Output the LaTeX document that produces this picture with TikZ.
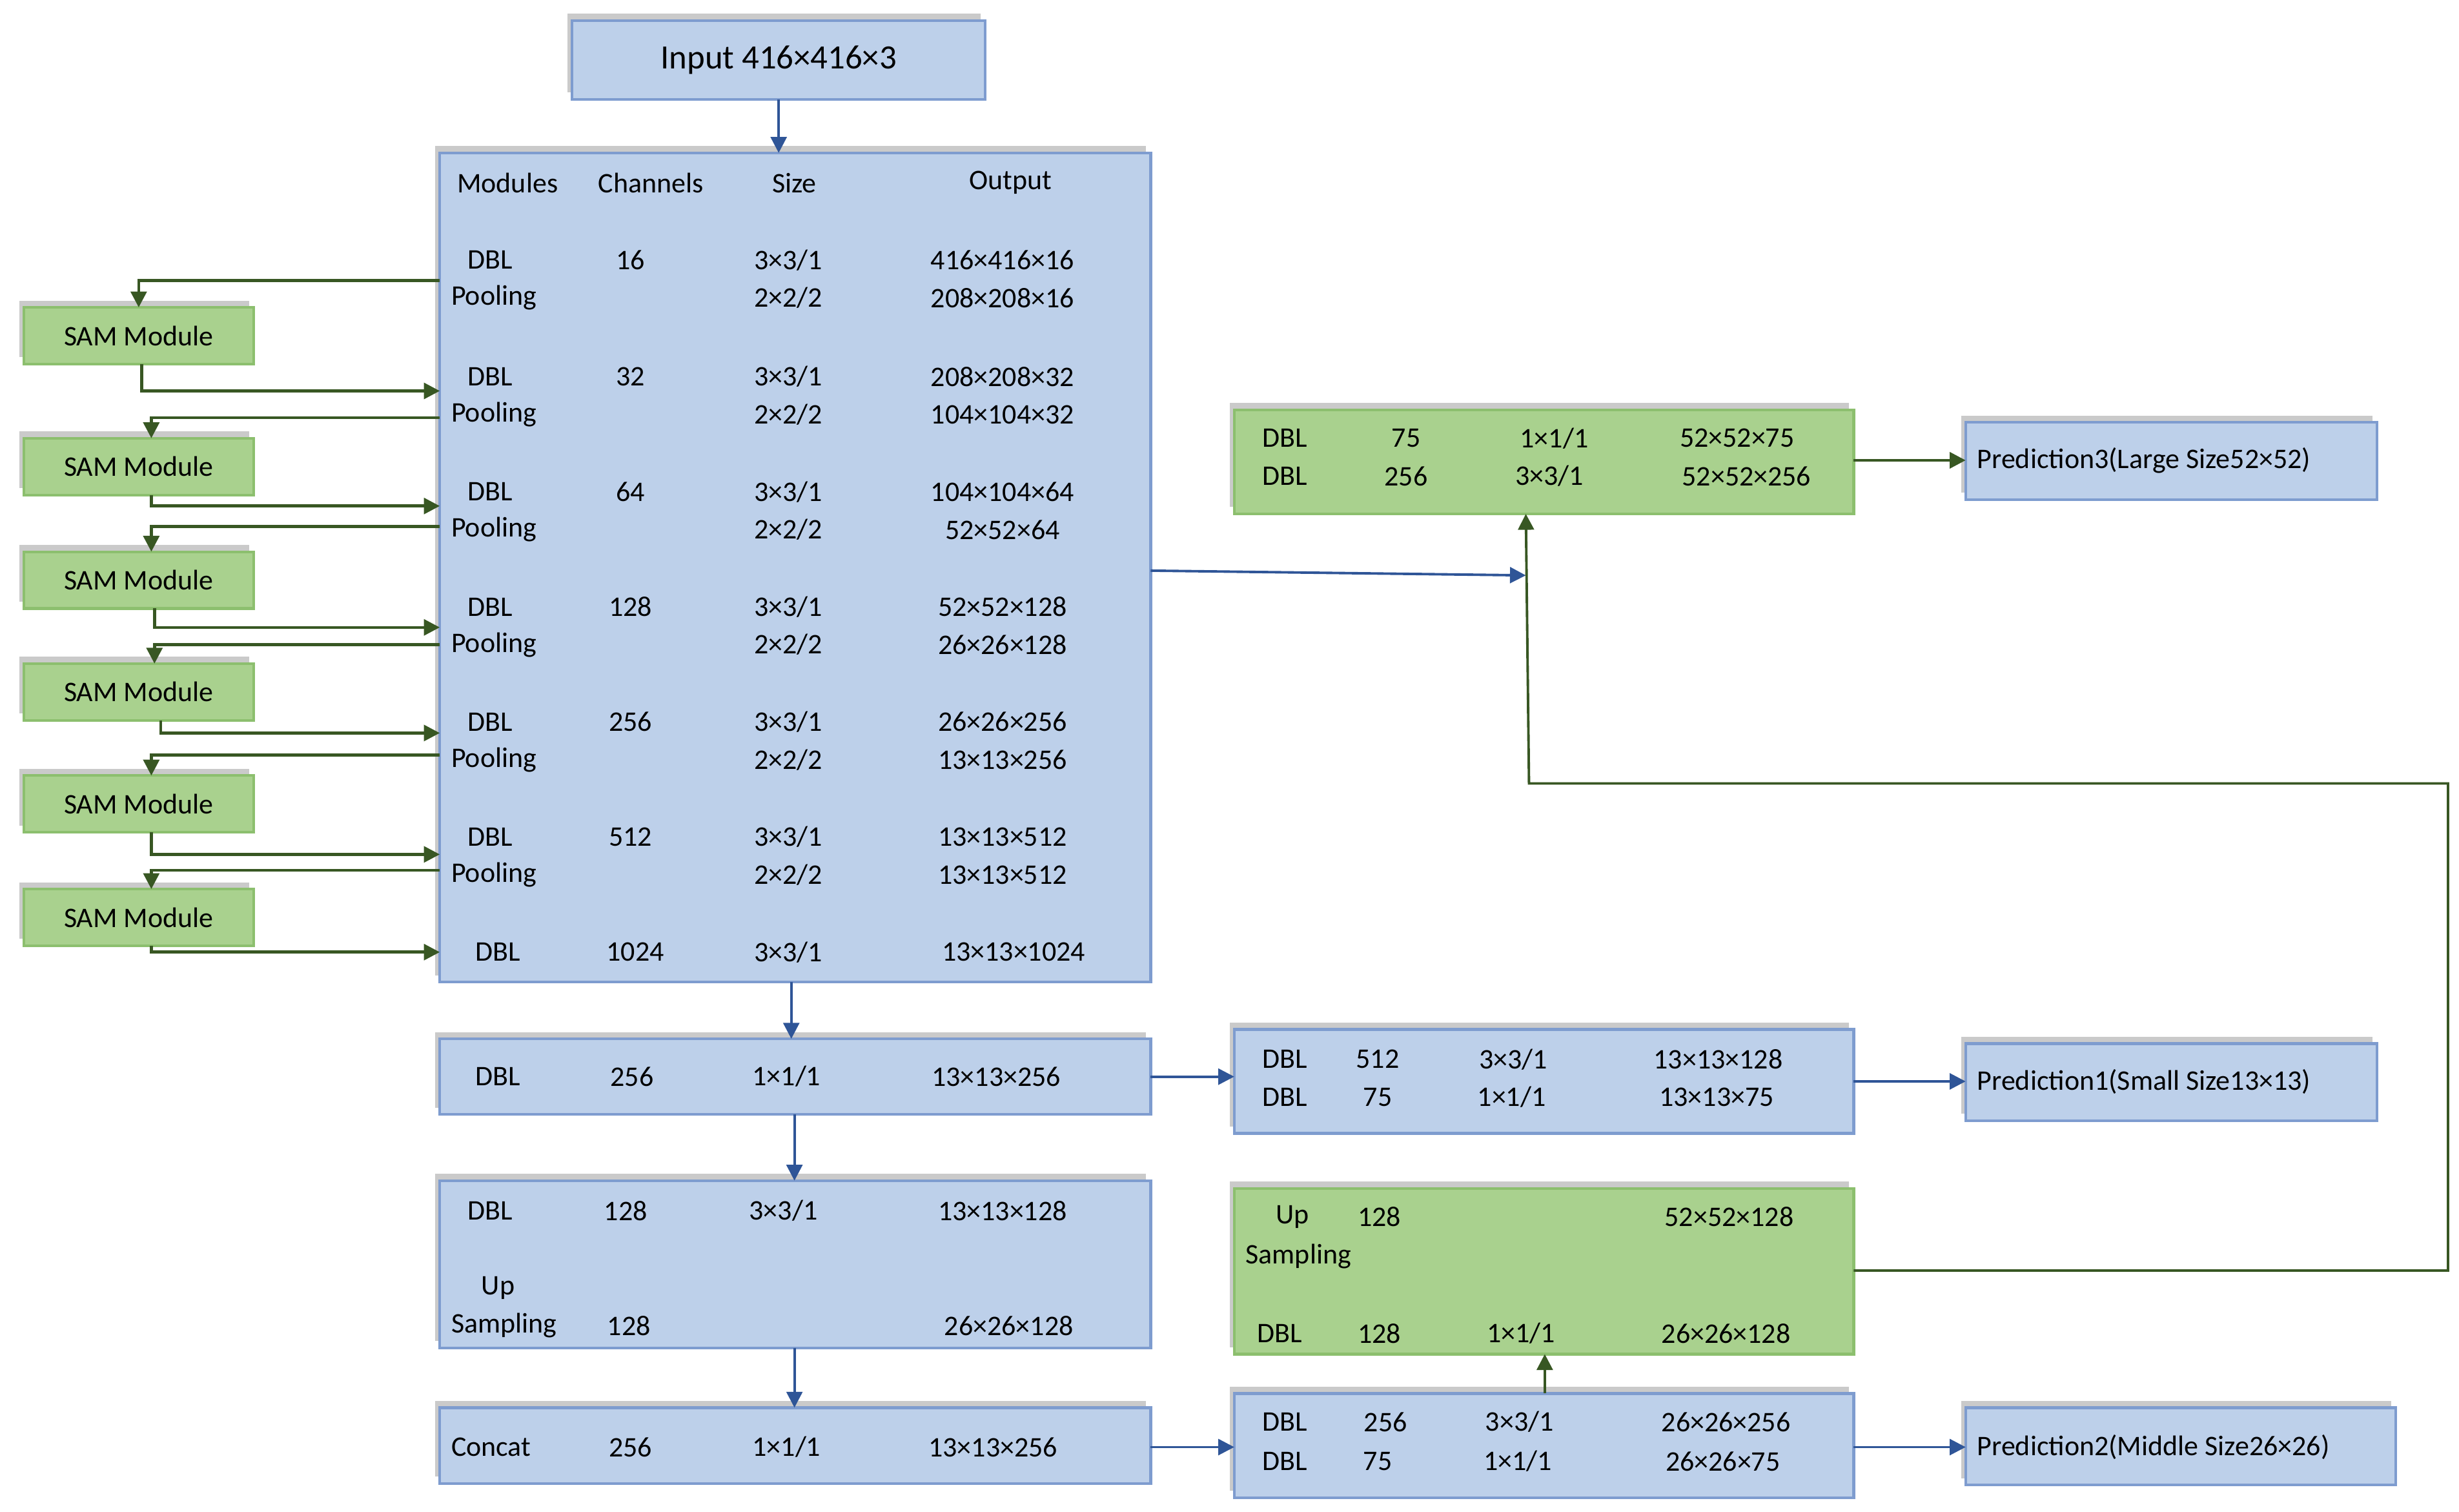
\documentclass[tikz,border=0pt]{standalone}
\usepackage{fontspec}
\setmainfont{Carlito}
\usetikzlibrary{shadows,arrows.meta}
\definecolor{bfill}{HTML}{BDD0EA}
\definecolor{bdraw}{HTML}{7E9CCF}
\definecolor{gfill}{HTML}{A9D18E}
\definecolor{gdraw}{HTML}{8CBF6E}
\definecolor{barrow}{HTML}{2F5597}
\definecolor{garrow}{HTML}{385723}
\tikzset{
 box/.style={draw=bdraw,fill=bfill,line width=1.2pt,drop shadow={shadow xshift=-2pt,shadow yshift=3pt,opacity=0.35,fill=black!60}},
 gbox/.style={draw=gdraw,fill=gfill,line width=1.2pt,drop shadow={shadow xshift=-2pt,shadow yshift=3pt,opacity=0.35,fill=black!60}},
 t/.style={inner sep=0pt,font=\fontsize{12.5}{14}\selectfont},
 ba/.style={draw=barrow,line width=1.1pt,-{Triangle[length=7pt,width=7pt]}},
 ga/.style={draw=garrow,line width=1.3pt,-{Triangle[length=7pt,width=7pt]}},
}
\begin{document}
\begin{tikzpicture}[x=0.02442cm,y=-0.02442cm]
\useasboundingbox (0,0) rectangle (1560,959);
% boxes
\path[box] (363,13) rectangle (625,63);
\node[t,font=\fontsize{15}{17}\selectfont] (in) at (494,38) {Input 416×416×3};
\coordinate (inB) at (494,63);
\path[box] (279,97) rectangle (730,623);
\coordinate (mainT) at (494,97);
\path[gbox] (783,260) rectangle (1176,326);
\path[box] (1247,268) rectangle (1508,317);
\node[t,anchor=west] (p3) at (1254,292) {Prediction3(Large Size52×52)};
\path[box] (279,659) rectangle (730,707);
\path[box] (783,653) rectangle (1176,719);
\path[box] (1247,662) rectangle (1508,711);
\node[t,anchor=west] (p1) at (1254,686) {Prediction1(Small Size13×13)};
\path[box] (279,749) rectangle (730,855);
\path[gbox] (783,754) rectangle (1176,859);
\path[box] (279,893) rectangle (730,941);
\path[box] (783,884) rectangle (1176,950);
\path[box] (1247,893) rectangle (1520,942);
\node[t,anchor=west] (p2) at (1254,918) {Prediction2(Middle Size26×26)};
% main table
\node[t] (h1) at (322,116) {Modules};
\node[t] (h2) at (413,116) {Channels};
\node[t] (h3) at (504,116) {Size};
\node[t] (h4) at (641,116) {Output};
\foreach \y/\c/\oa/\ob [count=\i] in {165/16/416×416×16/208×208×16, 239/32/208×208×32/104×104×32, 312/64/104×104×64/52×52×64, 385/128/52×52×128/26×26×128, 458/256/26×26×256/13×13×256, 531/512/13×13×512/13×13×512}{
 \node[t] (d\i) at (311,\y) {DBL};
 \node[t] (c\i) at (400,\y) {\c};
 \node[t] (s\i) at (500,\y) {3×3/1};
 \node[t] (o\i) at (636,\y) {\oa};
 \node[t,anchor=west] (pl\i) at (286,\y+24) {Pooling};
 \node[t] (ps\i) at (500,\y+24) {2×2/2};
 \node[t] (po\i) at (636,\y+24) {\ob};
}
\node[t] (d7) at (316,604) {DBL};
\node[t] (c7) at (403,604) {1024};
\node[t] (s7) at (500,604) {3×3/1};
\node[t] (o7) at (643,604) {13×13×1024};
% green top
\node[t] (a1) at (815,278) {DBL}; \node[t] (a2) at (892,278) {75}; \node[t] (a3) at (986,278) {1×1/1}; \node[t] (a4) at (1102,278) {52×52×75};
\node[t] (a5) at (815,302) {DBL}; \node[t] (a6) at (892,302) {256}; \node[t] (a7) at (983,302) {3×3/1}; \node[t] (a8) at (1108,302) {52×52×256};
% box 512
\node[t] (b1) at (815,672) {DBL}; \node[t] (b2) at (874,672) {512}; \node[t] (b3) at (960,672) {3×3/1}; \node[t] (b4) at (1090,672) {13×13×128};
\node[t] (b5) at (815,696) {DBL}; \node[t] (b6) at (874,696) {75}; \node[t] (b7) at (959,696) {1×1/1}; \node[t] (b8) at (1089,696) {13×13×75};
% green up
\node[t] (u1) at (820,772) {Up}; \node[t] (u2) at (875,772) {128}; \node[t] (u3) at (1097,772) {52×52×128};
\node[t,anchor=west] (u4) at (790,797) {Sampling};
\node[t] (u5) at (812,846) {DBL}; \node[t] (u6) at (875,846) {128}; \node[t] (u7) at (965,846) {1×1/1}; \node[t] (u8) at (1095,846) {26×26×128};
% bottom right
\node[t] (e1) at (815,902) {DBL}; \node[t] (e2) at (879,902) {256}; \node[t] (e3) at (964,902) {3×3/1}; \node[t] (e4) at (1095,902) {26×26×256};
\node[t] (e5) at (815,927) {DBL}; \node[t] (e6) at (874,927) {75}; \node[t] (e7) at (963,927) {1×1/1}; \node[t] (e8) at (1093,927) {26×26×75};
% DBL 256
\node[t] (f1) at (316,683) {DBL}; \node[t] (f2) at (401,683) {256}; \node[t] (f3) at (499,683) {1×1/1}; \node[t] (f4) at (632,683) {13×13×256};
% box 128 up
\node[t] (g1) at (311,768) {DBL}; \node[t] (g2) at (397,768) {128}; \node[t] (g3) at (497,768) {3×3/1}; \node[t] (g4) at (636,768) {13×13×128};
\node[t] (g5) at (316,817) {Up};
\node[t,anchor=west] (g6) at (286,841) {Sampling}; \node[t] (g7) at (399,841) {128}; \node[t] (g8) at (640,841) {26×26×128};
% concat
\node[t,anchor=west] (k1) at (286,918) {Concat}; \node[t] (k2) at (400,918) {256}; \node[t] (k3) at (499,918) {1×1/1}; \node[t] (k4) at (630,918) {13×13×256};
% SAM modules
\foreach \y/\xa/\ya/\xb/\yb [count=\i] in {213/88/178/90/248, 296/96/265/96/321, 368/96/334/98/398, 439/98/409/102/465, 510/96/479/96/542, 582/96/552/96/604}{
 \node[gbox,t,minimum width=146pt*0.6934,minimum height=36pt*0.6934,inner sep=0pt] (sam\i) at (88,\y) {SAM Module};
 \coordinate (mi\i) at (279,\ya);
 \coordinate (mo\i) at (279,\yb);
 \draw[ga] (mi\i) -- (\xa,\ya) -- (\xa,\y-18);
 \draw[ga] (\xb,\y+18) -- (\xb,\yb) -- (mo\i);
}
% connectors
\draw[ba] (inB) -- (mainT);
\coordinate (mainR) at (730,362);
\coordinate (gJ) at (968,365);
\draw[ba] (mainR) -- (gJ);
\coordinate (gB) at (968,326);
\coordinate (upR) at (1176,806);
\draw[ga,line width=1.1pt] (upR) -- (1553,806) -- (1553,497) -- (970,497) -- (gB);
\draw[ga] (1176,292) -- (1247,292);
\draw[ba] (502,623) -- (502,659);
\draw[ba] (730,683) -- (783,683);
\draw[ba] (504,707) -- (504,749);
\draw[ba] (504,855) -- (504,893);
\draw[ba] (730,918) -- (783,918);
\draw[ga,line width=1.1pt] (980,884) -- (980,859);
\draw[ba] (1176,686) -- (1247,686);
\draw[ba] (1176,918) -- (1247,918);
\end{tikzpicture}
\end{document}
